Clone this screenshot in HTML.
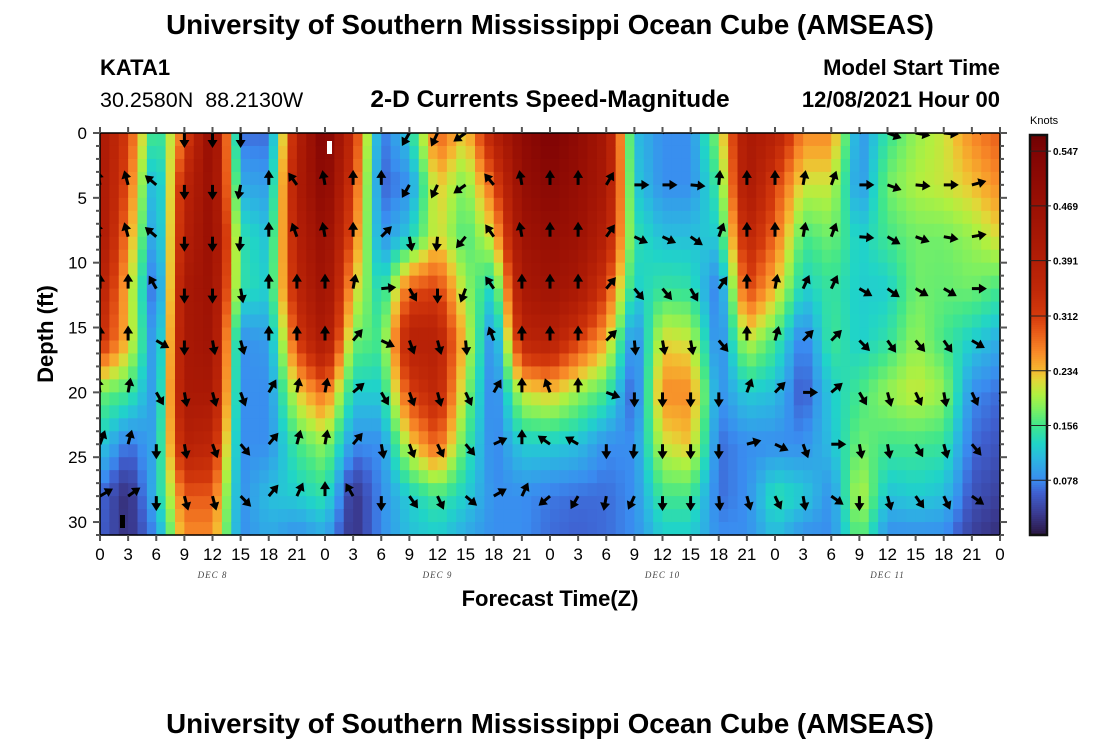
<!DOCTYPE html>
<html><head><meta charset="utf-8">
<style>
body{margin:0;background:#fff;}
svg{display:block;font-family:"Liberation Sans",sans-serif;}
</style></head>
<body>
<svg id="chart" width="1100" height="750" viewBox="0 0 1100 750">
<text x="550" y="34" text-anchor="middle" font-size="27.7" font-weight="bold">University of Southern Mississippi Ocean Cube (AMSEAS)</text>
<text x="550" y="733" text-anchor="middle" font-size="27.7" font-weight="bold">University of Southern Mississippi Ocean Cube (AMSEAS)</text>
<text x="100" y="75" font-size="22" font-weight="bold">KATA1</text>
<text x="100" y="107" font-size="21.5">30.2580N&#160;&#160;88.2130W</text>
<text x="550" y="107" text-anchor="middle" font-size="24.5" font-weight="bold">2-D Currents Speed-Magnitude</text>
<text x="1000" y="75" text-anchor="end" font-size="22" font-weight="bold">Model Start Time</text>
<text x="1000" y="107" text-anchor="end" font-size="22" font-weight="bold">12/08/2021 Hour 00</text>
<g id="heat"></g>
<g id="arrows"></g>
<rect x="327" y="141" width="5" height="13" fill="#fff"/>
<rect x="120" y="515" width="5" height="13" fill="#000"/>
<rect x="100" y="133" width="900" height="402" fill="none" stroke="#000" stroke-width="1.5"/>
<g id="axes"></g>
<text x="550" y="606" text-anchor="middle" font-size="22" font-weight="bold">Forecast Time(Z)</text>
<text transform="translate(53,334) rotate(-90)" text-anchor="middle" font-size="22" font-weight="bold">Depth (ft)</text>
<g id="cbar"></g>
</svg>
<script>
// data: speed (knots) per 3-hour column, depths listed in depthLevels
const hours = [0,3,6,9,12,15,18,21,24,27,30,33,36,39,42,45,48,51,54,57,60,63,66,69,72,75,78,81,84,87,90,93,96];
const depthLevels = [0,4,8,12,16,20,24,28,31];
const speed = [
[.42,.42,.42,.38,.34,.175,.125,.065,.06],
[.31,.29,.26,.23,.23,.156,.065,.015,.02],
[.125,.08,.07,.04,.065,.08,.10,.115,.08],
[.29,.36,.38,.42,.42,.42,.38,.29,.26],
[.5,.48,.48,.46,.45,.42,.36,.29,.26],
[.065,.10,.145,.145,.08,.08,.08,.08,.08],
[.065,.09,.115,.125,.09,.08,.08,.115,.10],
[.38,.40,.38,.36,.31,.22,.156,.125,.08],
[.55,.52,.48,.46,.42,.28,.19,.145,.10],
[.34,.31,.28,.23,.175,.125,.08,.02,.02],
[.065,.06,.08,.125,.156,.125,.08,.08,.08],
[.125,.08,.125,.29,.38,.31,.22,.125,.115],
[.29,.23,.22,.31,.38,.36,.29,.156,.125],
[.22,.175,.156,.19,.22,.19,.156,.125,.10],
[.38,.29,.22,.125,.065,.06,.07,.08,.08],
[.5,.48,.45,.42,.36,.21,.125,.08,.08],
[.55,.52,.48,.45,.38,.23,.125,.07,.065],
[.5,.48,.46,.42,.31,.19,.115,.065,.06],
[.42,.42,.38,.31,.24,.156,.08,.065,.065],
[.115,.125,.145,.125,.065,.05,.08,.08,.08],
[.08,.08,.115,.15,.22,.26,.21,.156,.125],
[.08,.08,.115,.145,.21,.26,.23,.156,.125],
[.19,.156,.125,.065,.065,.08,.065,.065,.08],
[.42,.42,.36,.31,.21,.125,.08,.08,.08],
[.38,.31,.28,.23,.156,.115,.08,.145,.115],
[.26,.21,.156,.125,.065,.05,.08,.125,.08],
[.26,.21,.175,.15,.156,.125,.115,.08,.08],
[.08,.08,.125,.125,.125,.156,.175,.21,.175],
[.15,.175,.156,.125,.145,.19,.156,.115,.08],
[.19,.2,.175,.175,.19,.21,.156,.125,.08],
[.21,.21,.175,.17,.156,.19,.15,.115,.08],
[.26,.23,.19,.175,.125,.08,.065,.05,.035],
[.29,.26,.22,.156,.10,.065,.05,.035,.02]
];
// arrow direction (degrees clockwise from up) per column at arrowDepths
const arrowDepths = [0,4,8,12,16,20,24,28];
const direction = [
[0,-10,-15,0,0,-10,20,60],
[0,-15,-15,0,0,10,15,55],
[0,-50,-50,-30,120,150,180,180],
[180,180,180,180,180,170,170,165],
[180,180,180,180,170,165,160,165],
[180,190,185,170,165,160,140,135],
[0,0,0,0,0,30,40,40],
[0,-35,-20,0,0,10,15,25],
[0,-10,-10,0,0,10,10,0],
[0,0,0,10,40,50,40,-30],
[0,0,45,85,115,150,170,180],
[210,210,170,150,160,160,160,145],
[205,205,185,180,165,165,155,155],
[235,235,220,200,175,155,140,130],
[0,-40,-35,-35,-20,30,65,60],
[0,-10,-10,0,0,0,0,25],
[0,0,0,0,0,-20,-55,230],
[0,0,0,0,0,0,-60,210],
[0,30,35,40,45,110,180,190],
[60,90,115,140,175,180,185,205],
[60,90,115,140,170,180,180,180],
[60,95,125,150,170,180,180,180],
[0,5,20,35,140,180,180,175],
[0,0,0,0,0,20,75,165],
[0,0,0,10,15,45,115,155],
[0,10,10,25,45,90,160,170],
[0,20,20,25,45,50,90,125],
[60,90,95,120,135,150,170,180],
[110,110,120,125,145,165,170,165],
[100,95,110,120,140,155,150,145],
[95,90,100,120,145,170,165,155],
[70,75,80,90,120,155,140,125],
[90,90,90,90,120,155,140,125]
];
const xTickLabels = ["0","3","6","9","12","15","18","21","0","3","6","9","12","15","18","21","0","3","6","9","12","15","18","21","0","3","6","9","12","15","18","21","0"];
const yTickValues = [0,5,10,15,20,25,30];
const dateLabels = ["DEC 8","DEC 9","DEC 10","DEC 11"];
const dateHours = [12,36,60,84];
const cbarTicks = [0.078,0.156,0.234,0.312,0.391,0.469,0.547];

const NS="http://www.w3.org/2000/svg";
const X0=100,X1=1000,Y0=133,Y1=535,TMAX=96,DMAX=31,VMAX=0.57;
const xS=t=>X0+t/TMAX*(X1-X0);
const yS=d=>Y0+d/DMAX*(Y1-Y0);
const stops=[[0,[42,22,64]],[0.03,[58,58,144]],[0.06,[63,96,208]],[0.078,[58,140,240]],[0.11,[43,184,224]],[0.13,[32,212,200]],[0.156,[64,230,140]],[0.18,[126,240,96]],[0.2,[176,240,64]],[0.22,[224,216,56]],[0.234,[245,184,48]],[0.26,[248,138,40]],[0.29,[232,90,24]],[0.312,[212,58,12]],[0.35,[192,40,8]],[0.391,[178,30,6]],[0.469,[154,16,4]],[0.547,[128,4,4]],[0.57,[110,2,2]]];
function cmap(v){
  if(v<=stops[0][0])return `rgb(${stops[0][1]})`;
  for(let i=1;i<stops.length;i++){
    if(v<=stops[i][0]){const a=stops[i-1],b=stops[i],f=(v-a[0])/(b[0]-a[0]);
      return `rgb(${a[1].map((c,k)=>Math.round(c+(b[1][k]-c)*f)).join(',')})`;}
  }
  return `rgb(${stops[stops.length-1][1]})`;
}
function mk(tag,attrs,parent){const e=document.createElementNS(NS,tag);for(const k in attrs)e.setAttribute(k,attrs[k]);parent.appendChild(e);return e;}
function sample(t,d){
  let i=0;while(i<hours.length-2&&t>hours[i+1])i++;
  let j=0;while(j<depthLevels.length-2&&d>depthLevels[j+1])j++;
  const ft=Math.min(1,Math.max(0,(t-hours[i])/(hours[i+1]-hours[i])));
  const fd=Math.min(1,Math.max(0,(d-depthLevels[j])/(depthLevels[j+1]-depthLevels[j])));
  const a=speed[i][j],b=speed[i+1][j],c=speed[i][j+1],e=speed[i+1][j+1];
  return (a*(1-ft)+b*ft)*(1-fd)+(c*(1-ft)+e*ft)*fd;
}
// heatmap (cells 1h x 1ft)
const heat=document.getElementById('heat');
for(let t=0;t<TMAX;t++){for(let d=0;d<DMAX;d++){
  const r=mk('rect',{x:xS(t).toFixed(2),y:yS(d).toFixed(2),width:(xS(1)-xS(0)+0.6).toFixed(2),height:(yS(1)-yS(0)+0.6).toFixed(2),fill:cmap(sample(t+0.5,d+0.5))},heat);
  
  
}}
// arrows
const ag=document.getElementById('arrows');
const defs=mk('defs',{},ag);
const cp=mk('clipPath',{id:'pc'},defs);
mk('rect',{x:X0,y:Y0,width:X1-X0,height:Y1-Y0},cp);
const agc=mk('g',{'clip-path':'url(#pc)'},ag);
hours.forEach((h,i)=>{arrowDepths.forEach((d,j)=>{
  const g=mk('g',{transform:`translate(${xS(h).toFixed(1)},${yS(d).toFixed(1)}) rotate(${direction[i][j]})`},agc);
  
  
  mk('line',{x1:0,y1:0,x2:0,y2:-8,stroke:'#000','stroke-width':3},g);
  mk('path',{d:'M-5,-7 L0,-15 L5,-7 Z',fill:'#000'},g);
});});
// axes
const ax=document.getElementById('axes');
hours.forEach((h,i)=>{
  const x=xS(h);
  const tb=mk('line',{x1:x,x2:x,y1:Y1,y2:Y1+6,stroke:'#555','stroke-width':2},ax);
  
  
  mk('line',{x1:x,x2:x,y1:Y0,y2:Y0-6,stroke:'#555','stroke-width':2},ax);
  const lb=mk('text',{x:x,y:560,'text-anchor':'middle','font-size':17},ax);
  lb.textContent=xTickLabels[i];
  
  
});
for(let d=0;d<=DMAX;d++){
  const y=yS(d),L=d%5===0?7:4;
  mk('line',{x1:X0-L,x2:X0,y1:y,y2:y,stroke:'#555','stroke-width':2},ax);
  mk('line',{x1:X1,x2:X1+L,y1:y,y2:y,stroke:'#555','stroke-width':2},ax);
}
yTickValues.forEach(v=>{
  const t=mk('text',{x:87,y:yS(v)+6,'text-anchor':'end','font-size':17},ax);
  t.textContent=String(v);
  
  
});
dateLabels.forEach((s,i)=>{
  const t=mk('text',{x:xS(dateHours[i]),y:578,'text-anchor':'middle','font-size':9,'font-style':'italic','font-family':'Liberation Serif, serif',fill:'#444','letter-spacing':'1'},ax);
  t.textContent=s;
  
  
});
// colorbar
const cb=document.getElementById('cbar');
const CX=1030,CW=17,CY0=135,CY1=535;
for(let k=0;k<200;k++){
  const v=VMAX*(1-(k+0.5)/200);
  mk('rect',{x:CX,y:CY0+k*(CY1-CY0)/200,width:CW,height:(CY1-CY0)/200+0.5,fill:cmap(v)},cb);
}
mk('rect',{x:CX,y:CY0,width:CW,height:CY1-CY0,fill:'none',stroke:'#111','stroke-width':2.5},cb);
const kt=mk('text',{x:1030,y:124,'font-size':11},cb);kt.textContent='Knots';


cbarTicks.forEach(v=>{
  const y=CY1-v/VMAX*(CY1-CY0);
  mk('line',{x1:CX,x2:CX+CW+4,y1:y,y2:y,stroke:'#222','stroke-width':1},cb);
  const t=mk('text',{x:1053,y:y+4,'font-size':10,'font-weight':'bold'},cb);
  t.textContent=v.toFixed(3);
  
  
});
</script>
</body></html>
